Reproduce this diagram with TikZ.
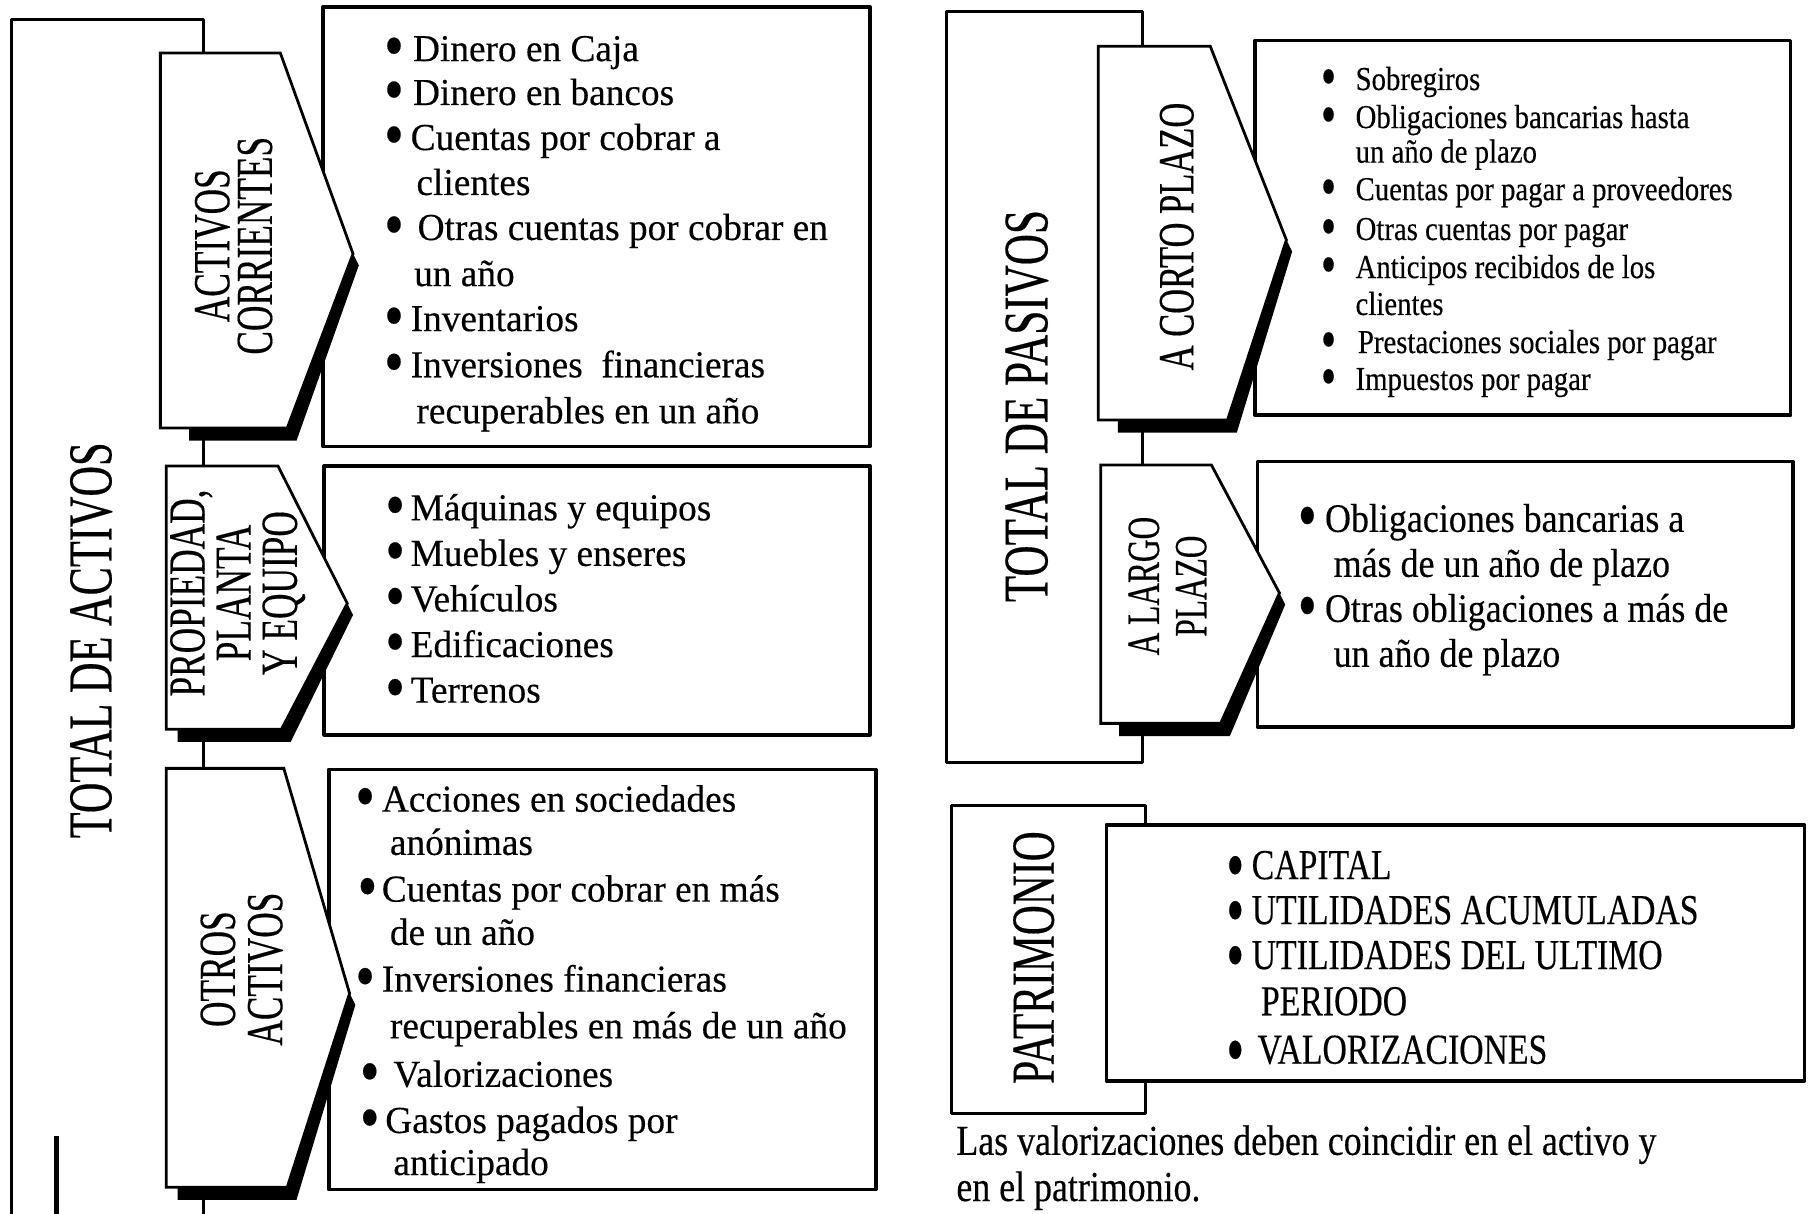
\documentclass[tikz,border=0pt]{standalone}
\usepackage{fontspec}
\setmainfont{Liberation Serif}
\newfontfamily\fLeft[FakeStretch=0.98,FakeBold=0.3]{Liberation Serif}
\newfontfamily\fAcp[FakeStretch=0.86,FakeBold=0.3]{Liberation Serif}
\newfontfamily\fAlp[FakeStretch=0.89,FakeBold=0.3]{Liberation Serif}
\newfontfamily\fPat[FakeStretch=0.79,FakeBold=0.3]{Liberation Serif}
\newfontfamily\fFoot[FakeStretch=0.84,FakeBold=0.3]{Liberation Serif}
\newfontfamily\fLab[FakeStretch=0.68,FakeBold=0.3]{Liberation Serif}
\newcommand\fsL{\fLeft\fontsize{33}{39}\selectfont}
\newcommand\fsC{\fAcp\fontsize{29}{33}\selectfont}
\newcommand\fsA{\fAlp\fontsize{35}{39}\selectfont}
\newcommand\fsP{\fPat\fontsize{37}{39}\selectfont}
\newcommand\fsF{\fFoot\fontsize{37}{40}\selectfont}
\tikzset{
  box/.style={draw=black, line width=3.2pt, fill=white, line join=round},
  frame/.style={draw=black, line width=2.6pt, line join=round},
  arrowbox/.style={draw=black, line width=2.4pt, fill=white, line join=miter},
  txt/.style={anchor=base west, inner sep=0pt, outer sep=0pt},
  lab/.style={rotate=90, align=center, inner sep=0pt},
}
\newcommand\bulraise{-0.19em}
\newcommand\bul{\smash{\raisebox{\bulraise}{\scalebox{1.5}[1.8]{\textbullet}}}}
% item with bullet: font, name, position, bullet-to-text gap, text
\newcommand\itm[5]{\node[txt,font=#1] (#2) at (#3) {\makebox[#4pt][l]{\bul}#5};}
\newcommand\cnt[4]{\node[txt,font=#1] (#2) at (#3) {#4};}
% arrow-shaped label box with shadow
\newcommand\arrowbox[8]{%
  \fill[black] (#4,#5) -- (#4+5,#5+10) -- (#6+8,#7+11) -- (#8,#7+11) -- (#8,#7) -- (#6,#7) -- cycle;
  \draw[arrowbox] (#1,#2) -- (#3,#2) -- (#4,#5) -- (#6,#7) -- (#1,#7) -- cycle;
}
\begin{document}
\begin{tikzpicture}[x=1pt,y=-1pt]
\useasboundingbox[fill=white] (0,0) rectangle (1568,1052);

% outer frames
\draw[frame] (176,1052) -- (176,17) -- (10,17) -- (10,1052);
\draw[line width=4pt] (49,985) -- (49,1052);
\draw[frame] (820,10) rectangle (990,661);
\draw[frame] (825,698) rectangle (993,965);

% content boxes
\draw[box] (280,6) rectangle (754,387);
\draw[box] (281,404) rectangle (754,637);
\draw[box] (285,667) rectangle (759,1031);
\draw[box] (1088,35) rectangle (1552,360);
\draw[box] (1090,400) rectangle (1554,630);
\draw[box] (959,715) rectangle (1564,937);

% arrow label boxes
\arrowbox{139}{46}{243}{306}{220}{249}{371}{164}
\arrowbox{144}{404}{241}{301}{523}{244}{632}{154}
\arrowbox{144}{666}{246}{303}{861}{249}{1029}{154}
\arrowbox{952}{40}{1049}{1115}{208}{1064}{364}{969}
\arrowbox{954}{403}{1050}{1109}{514}{1058}{627}{970}

% rotated labels
\node[lab, font=\fLab\fontsize{54}{54}\selectfont] (tact) at (79,555) {TOTAL DE ACTIVOS};
\node[lab, font=\fLab\fontsize{45}{37}\selectfont] (lac) at (202.5,213) {ACTIVOS\\CORRIENTES};
\node[lab, font=\fLab\fontsize{45}{40}\selectfont] (lppe) at (206,514) {PROPIEDAD,\\PLANTA\\Y EQUIPO};
\node[lab, font=\fLab\fontsize{45}{41}\selectfont] (loa) at (209.5,840) {OTROS\\ACTIVOS};
\node[lab, font=\fLab\fontsize{55}{55}\selectfont] (tpas) at (890,352) {TOTAL DE PASIVOS};
\node[lab, font=\fLab\fontsize{44}{44}\selectfont] (lcp) at (1020,205) {A CORTO PLAZO};
\node[lab, font=\fLab\fontsize{40}{41}\selectfont] (llp) at (1012,508) {A LARGO\\PLAZO};
\node[lab, font=\fLab\fontsize{53}{53}\selectfont] (lpat) at (896,830) {PATRIMONIO};

% activos corrientes
\itm{\fsL}{a1}{333,53}{25}{Dinero en Caja}
\itm{\fsL}{a2}{333,91}{25}{Dinero en bancos}
\itm{\fsL}{a3}{333,130}{23}{Cuentas por cobrar a}
\cnt{\fsL}{a3b}{361,169}{clientes}
\itm{\fsL}{a4}{333,208}{29}{Otras cuentas por cobrar en}
\cnt{\fsL}{a4b}{359,248}{un año}
\itm{\fsL}{a5}{333,287}{23}{Inventarios}
\itm{\fsL}{a6}{333,327}{23}{Inversiones\ \ financieras}
\cnt{\fsL}{a6b}{361,367}{recuperables en un año}

% propiedad planta y equipo
\itm{\fsL}{p1}{334,451}{22}{Máquinas y equipos}
\itm{\fsL}{p2}{334,490.5}{22}{Muebles y enseres}
\itm{\fsL}{p3}{334,530}{22}{Vehículos}
\itm{\fsL}{p4}{334,569.5}{22}{Edificaciones}
\itm{\fsL}{p5}{334,609}{22}{Terrenos}

% otros activos
\itm{\fsL}{o1}{308,703.5}{23}{Acciones en sociedades}
\cnt{\fsL}{o1b}{338,741}{anónimas}
\itm{\fsL}{o2}{310,781.5}{21}{Cuentas por cobrar en más}
\cnt{\fsL}{o2b}{338,819}{de un año}
\itm{\fsL}{o3}{308,859.5}{23}{Inversiones financieras}
\cnt{\fsL}{o3b}{338,900}{recuperables en más de un año}
\itm{\fsL}{o4}{312,942}{29}{Valorizaciones}
\itm{\fsL}{o5}{312,982}{22}{Gastos pagados por}
\cnt{\fsL}{o5b}{341,1018.5}{anticipado}

% pasivos a corto plazo
\itm{\fsC}{c1}{1145,78}{30}{Sobregiros}
\itm{\fsC}{c2}{1145,111}{30}{Obligaciones bancarias hasta}
\cnt{\fsC}{c2b}{1175,141}{un año de plazo}
\itm{\fsC}{c3}{1145,173.5}{30}{Cuentas por pagar a proveedores}
\itm{\fsC}{c4}{1145,208}{30}{Otras cuentas por pagar}
\itm{\fsC}{c5}{1145,241}{30}{Anticipos recibidos de los}
\cnt{\fsC}{c5b}{1175,273}{clientes}
\itm{\fsC}{c6}{1145,306}{32}{Prestaciones sociales por pagar}
\itm{\fsC}{c7}{1145,338}{30}{Impuestos por pagar}

% pasivos a largo plazo
\itm{\fsA}{l1}{1125,461}{23.5}{Obligaciones bancarias a}
\cnt{\fsA}{l1b}{1156,500}{más de un año de plazo}
\itm{\fsA}{l2}{1125,539}{23.5}{Otras obligaciones a más de}
\cnt{\fsA}{l2b}{1156,578}{un año de plazo}

% patrimonio
\renewcommand\bulraise{-0.27em}
\itm{\fsP}{q1}{1063,762}{22}{CAPITAL}
\itm{\fsP}{q2}{1063,801}{22}{UTILIDADES ACUMULADAS}
\itm{\fsP}{q3}{1063,840}{22}{UTILIDADES DEL ULTIMO}
\cnt{\fsP}{q3b}{1093,880}{PERIODO}
\itm{\fsP}{q4}{1063,922}{27}{VALORIZACIONES}

% footer note
\cnt{\fsF}{f1}{829,1001}{Las valorizaciones deben coincidir en el activo y}
\cnt{\fsF}{f2}{829,1041}{en el patrimonio.}
\end{tikzpicture}
\end{document}
